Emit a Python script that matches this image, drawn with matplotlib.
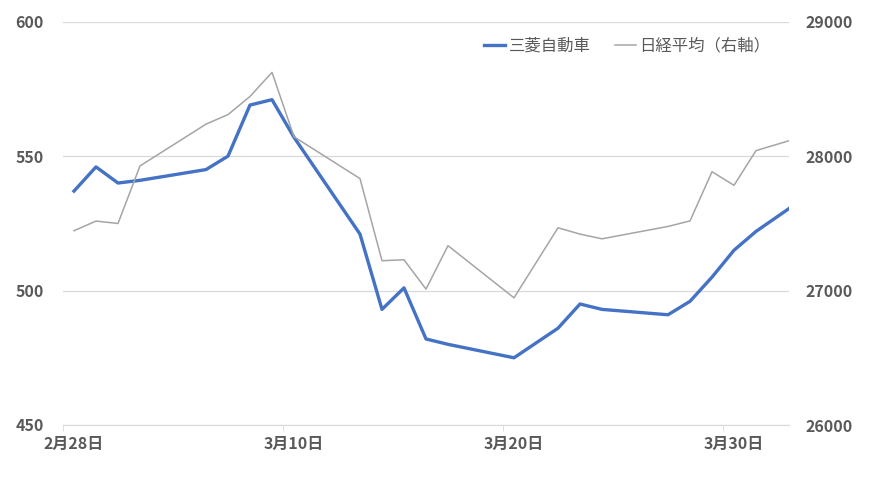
import matplotlib
matplotlib.use("Agg")
import matplotlib.pyplot as plt
import matplotlib.dates as mdates
from matplotlib.ticker import FuncFormatter
import pandas as pd

plt.rcParams['font.family'] = ['Noto Sans CJK JP', 'DejaVu Sans']

# trading days, Feb 28 - Apr 3 2023 (axis is cut at Apr 1)
dates = pd.to_datetime([
    "2023-02-28", "2023-03-01", "2023-03-02", "2023-03-03",
    "2023-03-06", "2023-03-07", "2023-03-08", "2023-03-09", "2023-03-10",
    "2023-03-13", "2023-03-14", "2023-03-15", "2023-03-16", "2023-03-17",
    "2023-03-20", "2023-03-22", "2023-03-23", "2023-03-24",
    "2023-03-27", "2023-03-28", "2023-03-29", "2023-03-30", "2023-03-31",
    "2023-04-03",
])
mitsubishi = [537, 546, 540, 541, 545, 550, 569, 571, 557,
              521, 493, 501, 482, 480, 475, 486, 495, 493,
              491, 496, 505, 515, 522, 539]
nikkei = [27445, 27517, 27499, 27927, 28238, 28309, 28444, 28623, 28144,
          27833, 27222, 27229, 27011, 27334, 26946, 27467, 27420, 27385,
          27477, 27518, 27884, 27783, 28041, 28188]

label_dates = pd.to_datetime(["2023-02-28", "2023-03-10", "2023-03-20", "2023-03-30"])
left_ticks = [450, 500, 550, 600]
right_ticks = [26000, 27000, 28000, 29000]

text_color = "#595959"
grid_color = "#d9d9d9"

fig = plt.figure(figsize=(8.7, 4.78), dpi=100)
ax = fig.add_axes([63 / 870, 1 - 425 / 478, (789 - 63) / 870, (425 - 21.7) / 478])
ax2 = ax.twinx()

l1, = ax.plot(dates, mitsubishi, color="#4472C4", lw=2.4, solid_joinstyle="round",
              label="三菱自動車")
l2, = ax2.plot(dates, nikkei, color="#A5A5A5", lw=1.1, label="日経平均（右軸）")

ax.set_ylim(450, 600)
ax.set_yticks(left_ticks)
ax2.set_ylim(26000, 29000)
ax2.set_yticks(right_ticks)

x0 = mdates.date2num(dates[0]) - 0.5
x1 = mdates.date2num(pd.Timestamp("2023-04-01")) + 0.5
ax.set_xlim(x0, x1)

ax.set_xticks(mdates.date2num(label_dates))
ax.set_xticks([mdates.date2num(d) - 0.5 for d in label_dates], minor=True)
ax.xaxis.set_major_formatter(FuncFormatter(
    lambda v, p: f"{mdates.num2date(v).month}月{mdates.num2date(v).day}日"))

ax.grid(axis="y", color=grid_color, lw=0.9)
ax.set_axisbelow(True)
for a in (ax, ax2):
    for s in a.spines.values():
        s.set_visible(False)
ax.spines["bottom"].set_visible(True)
ax.spines["bottom"].set_color(grid_color)

ax.tick_params(axis="x", which="major", length=0, pad=8, labelsize=11.5,
               labelcolor=text_color)
ax.tick_params(axis="x", which="minor", length=4, color=grid_color)
ax.tick_params(axis="y", length=0, pad=14, labelsize=11.5, labelcolor=text_color)
ax2.tick_params(axis="y", length=0, pad=12, labelsize=11.5, labelcolor=text_color)
for lab in ax.get_xticklabels() + ax.get_yticklabels() + ax2.get_yticklabels():
    lab.set_fontweight("bold")

leg = ax.legend(handles=[l1, l2], loc="center right", bbox_to_anchor=(0.995, 0.94),
                ncol=2, frameon=False, fontsize=11.8, handlelength=1.3,
                handletextpad=0.2, columnspacing=1.5)
for t in leg.get_texts():
    t.set_color(text_color)

fig.savefig("out.png", dpi=100)
plt.close(fig)
